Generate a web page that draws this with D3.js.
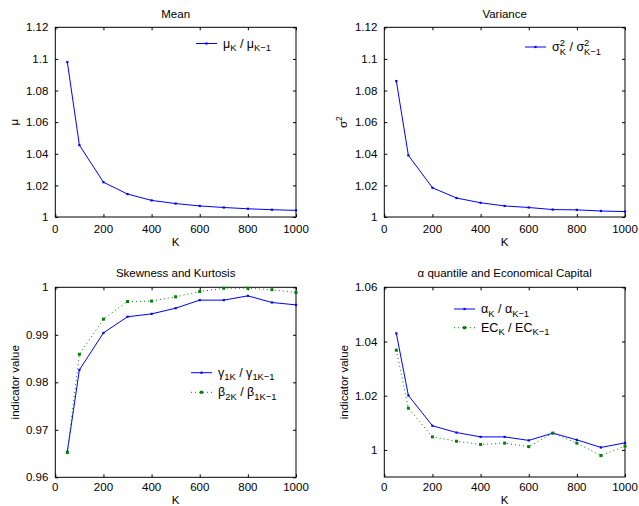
<!DOCTYPE html>
<html><head><meta charset="utf-8">
<script src="https://cdn.jsdelivr.net/npm/d3@7"></script>
<style>
html,body{margin:0;padding:0;background:#fff;}
svg{display:block;font-family:"Liberation Sans",Arial,Helvetica,sans-serif;}
text{white-space:pre;}
</style></head>
<body>
<svg id="chart" width="639" height="506"></svg>
<script>
// ---- data ----
const K = [50,100,200,300,400,500,600,700,800,900,1000];
const meanRatio  = [1.098,1.0455,1.022,1.0145,1.0105,1.0085,1.007,1.006,1.0052,1.0046,1.0042];
const varRatio   = [1.086,1.039,1.0185,1.012,1.009,1.007,1.006,1.0047,1.0045,1.0038,1.0034];
const gammaRatio = [0.9654,0.9826,0.9904,0.9938,0.9944,0.9956,0.9973,0.9973,0.9982,0.9968,0.9963];
const betaRatio  = [0.9652,0.9859,0.9933,0.9970,0.9971,0.9980,0.9991,0.9998,0.9998,0.9995,0.9989];
const alphaRatio = [1.043,1.0201,1.0089,1.0064,1.0048,1.0048,1.0035,1.0062,1.0037,1.0009,1.0026];
const ecRatio    = [1.0368,1.0154,1.0048,1.0032,1.0020,1.0025,1.0012,1.0062,1.0025,0.9979,1.0014];
const xTicks = [0,200,400,600,800,1000];
const yTicksTop  = [1,1.02,1.04,1.06,1.08,1.1,1.12];
const yTicksSkew = [0.96,0.97,0.98,0.99,1];
const yTicksEC   = [1,1.02,1.04,1.06];

const BLUE = "#0000ff", GREEN = "#008000";
const svg = d3.select("#chart");

// rich text: parts = [{t}, {sub}, {sup}, {sup,sub}]
function rich(g, x, y, parts, fs, anchor) {
  const grp = g.append("g");
  let cx = 0;
  const sfs = fs * 0.75;
  parts.forEach(p => {
    if (p.t !== undefined) {
      const el = grp.append("text").attr("x", cx).attr("y", 0).attr("font-size", fs)
        .attr("xml:space","preserve").text(p.t);
      cx += el.node().getComputedTextLength();
    } else {
      let w = 0;
      if (p.sup !== undefined) {
        const e = grp.append("text").attr("x", cx).attr("y", -fs*0.42).attr("font-size", sfs).text(p.sup);
        w = Math.max(w, e.node().getComputedTextLength());
      }
      if (p.sub !== undefined) {
        const e = grp.append("text").attr("x", cx).attr("y", fs*0.3).attr("font-size", sfs).text(p.sub);
        w = Math.max(w, e.node().getComputedTextLength());
      }
      cx += w;
    }
  });
  const dx = anchor === "middle" ? -cx/2 : 0;
  grp.attr("transform", `translate(${x+dx},${y})`);
  grp.property("__w", cx);
  return grp;
}

const panels = [
  {title:[{t:"Mean"}], x0:55.3, x1:296, y0:27.3, y1:217, yDom:[1,1.12], yTicks:yTicksTop,
   ylab:[{t:"μ"}], ylabX:18,
   series:[{v:meanRatio, c:BLUE, dash:null, leg:[{t:"μ"},{sub:"K"},{t:" / μ"},{sub:"K−1"}]}],
   legX:196, legY:43.5, legDy:19, titleY:18, tickY:233, klabY:246},
  {title:[{t:"Variance"}], x0:384.3, x1:625, y0:27.3, y1:217, yDom:[1,1.12], yTicks:yTicksTop,
   ylab:[{t:"σ"},{sup:"2"}], ylabX:347,
   series:[{v:varRatio, c:BLUE, dash:null, leg:[{t:"σ"},{sup:"2",sub:"K"},{t:" / σ"},{sup:"2",sub:"K−1"}]}],
   legX:525, legY:47, legDy:19, titleY:18, tickY:233, klabY:246},
  {title:[{t:"Skewness and Kurtosis"}], x0:55.3, x1:296, y0:287.3, y1:477.3, yDom:[0.96,1], yTicks:yTicksSkew,
   ylab:[{t:"indicator value"}], ylabX:19,
   series:[{v:gammaRatio, c:BLUE, dash:null, leg:[{t:"γ"},{sub:"1K"},{t:" / γ"},{sub:"1K−1"}]},
           {v:betaRatio, c:GREEN, dash:"1,3", leg:[{t:"β"},{sub:"2K"},{t:" / β"},{sub:"1K−1"}]}],
   legX:191, legY:372.7, legDy:19.6, titleY:277, tickY:491, klabY:504},
  {title:[{t:"α quantile and Economical Capital"}], x0:384.3, x1:625, y0:287.3, y1:477, yDom:[0.99,1.06], yTicks:yTicksEC,
   ylab:[{t:"indicator value"}], ylabX:348,
   series:[{v:alphaRatio, c:BLUE, dash:null, leg:[{t:"α"},{sub:"K"},{t:" / α"},{sub:"K−1"}]},
           {v:ecRatio, c:GREEN, dash:"1,3", leg:[{t:"EC"},{sub:"K"},{t:" / EC"},{sub:"K−1"}]}],
   legX:454, legY:309, legDy:18.7, titleY:277, tickY:491, klabY:504}
];

panels.forEach(p => {
  const x = d3.scaleLinear().domain([0,1000]).range([p.x0,p.x1]);
  const y = d3.scaleLinear().domain(p.yDom).range([p.y1,p.y0]);
  const g = svg.append("g");

  // axes (ticks inward on all four sides)
  const tl = 3;
  const fmt = d => String(+d.toFixed(4));
  g.append("g").attr("transform",`translate(0,${p.y1})`)
    .call(d3.axisBottom(x).tickValues(xTicks).tickSizeInner(-tl).tickSizeOuter(0).tickPadding(0).tickFormat(()=>""));
  g.append("g").attr("transform",`translate(0,${p.y0})`)
    .call(d3.axisTop(x).tickValues(xTicks).tickSizeInner(-tl).tickSizeOuter(0).tickFormat(()=>""));
  g.append("g").attr("transform",`translate(${p.x0},0)`)
    .call(d3.axisLeft(y).tickValues(p.yTicks).tickSizeInner(-tl).tickSizeOuter(0).tickPadding(7).tickFormat(fmt));
  g.append("g").attr("transform",`translate(${p.x1},0)`)
    .call(d3.axisRight(y).tickValues(p.yTicks).tickSizeInner(-tl).tickSizeOuter(0).tickFormat(()=>""));
  g.selectAll(".domain").remove();
  g.selectAll(".tick line").attr("stroke","#000").attr("stroke-width",1);
  g.selectAll(".tick text").attr("font-size",11.5).attr("fill","#000").attr("font-family","Liberation Sans,Arial,sans-serif");
  g.append("rect").attr("x",p.x0).attr("y",p.y0).attr("width",p.x1-p.x0).attr("height",p.y1-p.y0)
    .attr("fill","none").attr("stroke","#000").attr("stroke-width",1);

  // x tick labels
  g.selectAll(".xl").data(xTicks).enter().append("text")
    .attr("x",d=>x(d)).attr("y",p.tickY).attr("text-anchor","middle").attr("font-size",11.5).text(d=>d);
  // x label
  g.append("text").attr("x",(p.x0+p.x1)/2).attr("y",p.klabY).attr("text-anchor","middle").attr("font-size",11.5).text("K");
  // title
  rich(g,(p.x0+p.x1)/2,p.titleY,p.title,11.5,"middle");
  // y label
  const yl = rich(g,0,0,p.ylab,11.5,"start");
  const w = yl.property("__w");
  yl.attr("transform",`translate(${p.ylabX},${(p.y0+p.y1)/2}) rotate(-90) translate(${-w/2},0)`);

  // series
  p.series.forEach((s,i) => {
    const data = K.map((k,j)=>[k,s.v[j]]);
    g.append("path").datum(data)
      .attr("fill","none").attr("stroke",s.c).attr("stroke-width",1)
      .attr("stroke-dasharray",s.dash)
      .attr("d",d3.line().x(d=>x(d[0])).y(d=>y(d[1])));
    const ms = s.dash ? 3 : 2.2;
    g.selectAll(null).data(data).enter().append("rect")
      .attr("x",d=>x(d[0])-ms/2).attr("y",d=>y(d[1])-ms/2).attr("width",ms).attr("height",ms).attr("fill",s.c);
    // legend
    const ly = p.legY + i*p.legDy;
    g.append("line").attr("x1",p.legX).attr("x2",p.legX+21).attr("y1",ly).attr("y2",ly)
      .attr("stroke",s.c).attr("stroke-width",1).attr("stroke-dasharray",s.dash);
    g.append("rect").attr("x",p.legX+10.5-ms/2).attr("y",ly-ms/2).attr("width",ms).attr("height",ms).attr("fill",s.c);
    rich(g,p.legX+27,ly+4,s.leg,12.5,"start");
  });
});
</script>
</body></html>
